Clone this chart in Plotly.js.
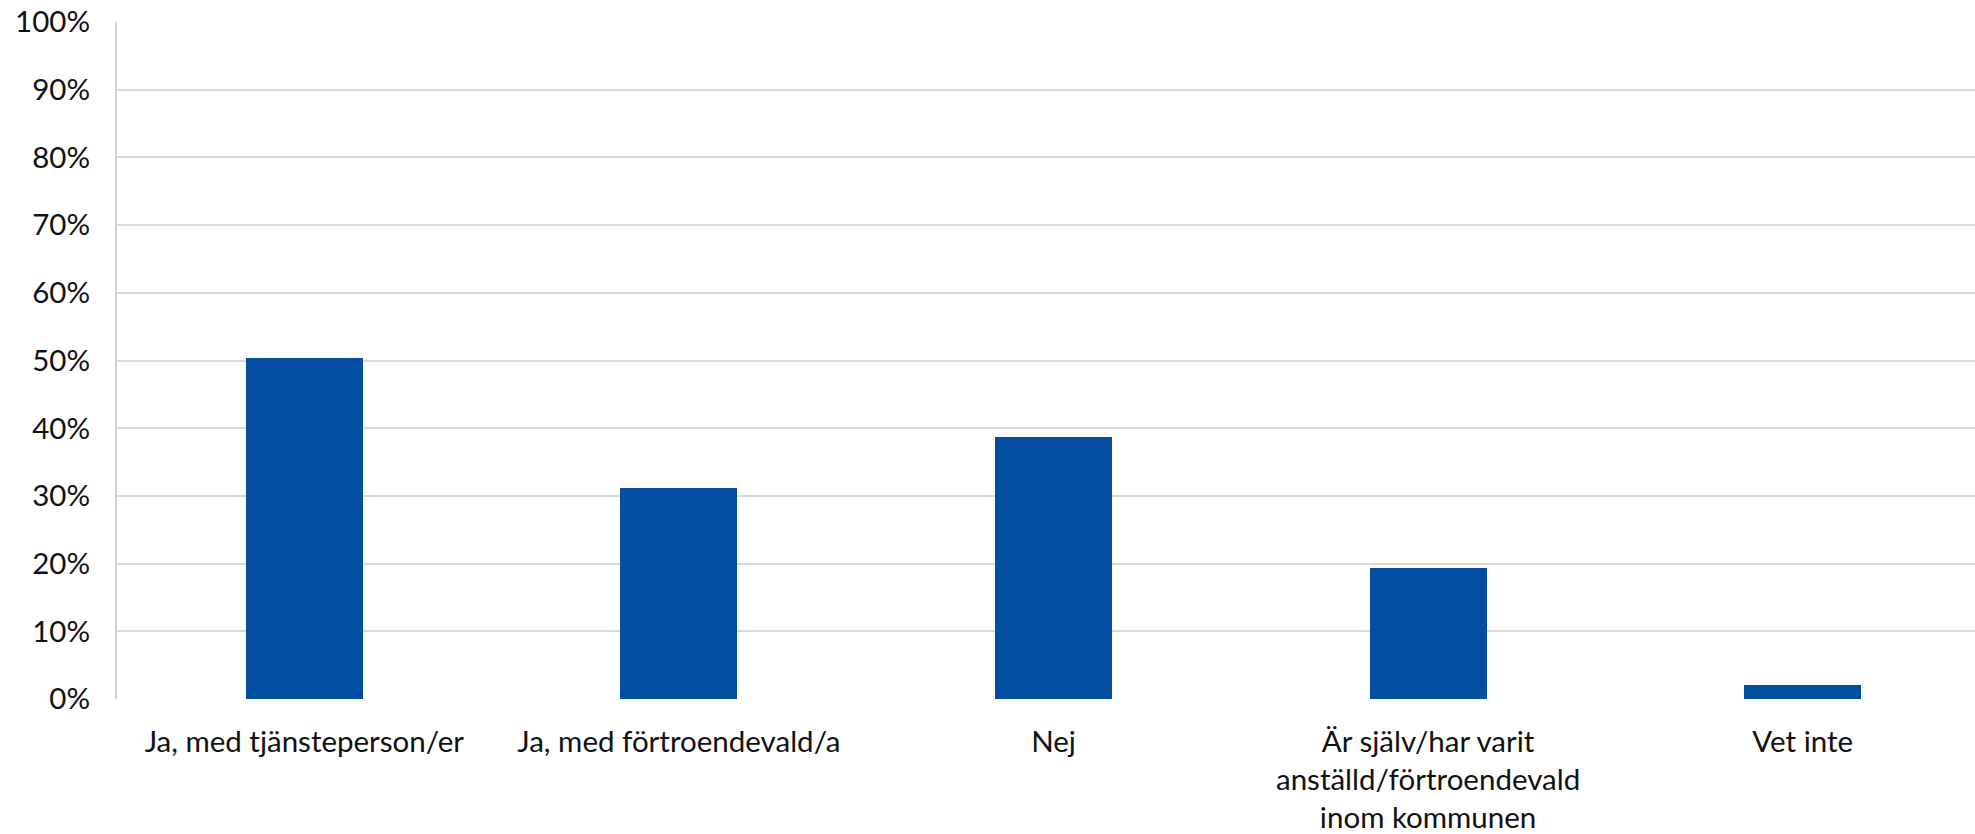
<!DOCTYPE html>
<html>
<head>
<meta charset="utf-8">
<script src="https://cdn.plot.ly/plotly-3.0.1.min.js"></script>
<style>
  html, body { margin: 0; padding: 0; background: #ffffff; overflow: hidden; }
  #chart { width: 1975px; height: 834px; }
</style>
</head>
<body>
<div id="chart"></div>
<script>
const categories = [
  "Ja, med tjänsteperson/er",
  "Ja, med förtroendevald/a",
  "Nej",
  "Är själv/har varit<br>anställd/förtroendevald<br>inom kommunen",
  "Vet inte"
];
const values = [0.504, 0.311, 0.387, 0.193, 0.021];
const yTickVals = [0, 0.1, 0.2, 0.3, 0.4, 0.5, 0.6, 0.7, 0.8, 0.9, 1.0];
const yTickText = ["0%", "10%", "20%", "30%", "40%", "50%", "60%", "70%", "80%", "90%", "100%"];

const trace = {
  type: "bar",
  x: categories,
  y: values,
  width: 0.312,
  marker: { color: "#044EA2", line: { width: 0 } },
  hoverinfo: "x+y"
};

const layout = {
  width: 1975,
  height: 834,
  margin: { l: 117, r: 0, t: 22, b: 135, pad: 0 },
  paper_bgcolor: "#ffffff",
  plot_bgcolor: "#ffffff",
  showlegend: false,
  font: { family: "Lato, 'Open Sans', sans-serif", size: 29.5, color: "#111111" },
  bargap: 0,
  xaxis: {
    type: "category",
    range: [-0.5, 4.46],
    showgrid: false,
    zeroline: false,
    showline: false,
    ticks: "",
    tickfont: { size: 29.5, color: "#111111" },
    ticklabelstandoff: 22,
    fixedrange: true
  },
  yaxis: {
    range: [0, 1],
    tickvals: yTickVals,
    ticktext: yTickText,
    showgrid: true,
    gridcolor: "#d9d9d9",
    gridwidth: 2,
    zeroline: false,
    showline: true,
    linecolor: "#d0d0d0",
    linewidth: 2,
    ticks: "",
    ticklabelstandoff: 19,
    tickfont: { size: 29.5, color: "#111111" },
    fixedrange: true
  }
};

Plotly.newPlot("chart", [trace], layout, { displayModeBar: false, staticPlot: true });
</script>
</body>
</html>
